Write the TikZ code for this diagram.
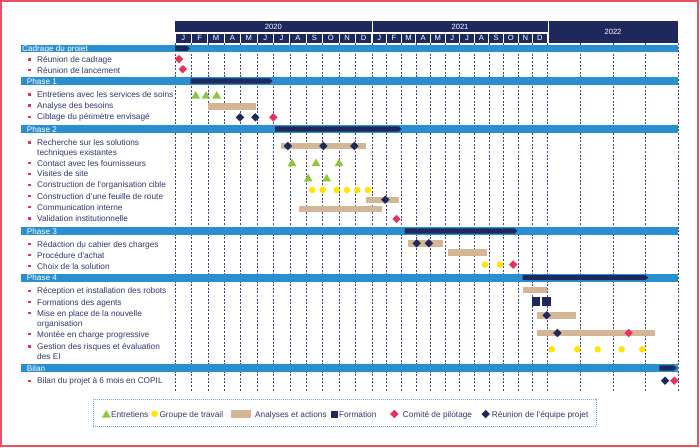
\documentclass[tikz,border=0pt]{standalone}
\usepackage{fontspec}
\setmainfont{Liberation Sans}
\usetikzlibrary{shapes.geometric}

\definecolor{navy}{HTML}{1E285A}
\definecolor{phaseblue}{HTML}{2A8FD0}
\definecolor{sand}{HTML}{D4B596}
\definecolor{leaf}{HTML}{8CC63F}
\definecolor{sun}{HTML}{FFE600}
\definecolor{copilred}{HTML}{E8325C}
\definecolor{ink}{HTML}{30366A}
\definecolor{gridgray}{HTML}{3E4679}
\definecolor{framered}{HTML}{E8525E}
\definecolor{legendblue}{HTML}{62AEDD}

% sand bar from x #1 to x #2, centred on y #3
\newcommand{\sandbar}[3]{\fill[sand] (#1,#3-3.2) rectangle (#2,#3+3.2);}
% navy arrow from x #1 to x #2, centred on y #3
\newcommand{\navyarrow}[3]{\fill[navy] (#1,#3-2.6) -- (#2-3,#3-2.6) -- (#2,#3) -- (#2-3,#3+2.6) -- (#1,#3+2.6) -- cycle;}
% phase band: name, top, bottom, text x, text
\newcommand{\phaseband}[5]{\fill[phaseblue] (21,#2) rectangle (678,#3);
  \node[phasetext] (#1) at (#4,#3-0.6) {#5};}
% task line: name, baseline, text
\newcommand{\tasklabel}[3]{\fill[copilred] (28.3,#2-4.2) rectangle +(2.4,2.4);
  \node[tasktext] (#1) at (37,#2) {#3};}
% task on two lines: name, first baseline, text (base anchor sits on the last line)
\newcommand{\tasklabeltwo}[3]{\fill[copilred] (28.3,#2-4.2) rectangle +(2.4,2.4);
  \node[tasktext] (#1) at (37,#2+10) {#3};}

\begin{document}
\begin{tikzpicture}[x=1pt,y=-1pt]
        \tikzstyle{tasktext}=[anchor=base west, inner sep=0pt, align=left, text=ink, font=\fontsize{8.3}{10}\selectfont]
        \tikzstyle{phasetext}=[anchor=base west, inner sep=0pt, text=white, font=\fontsize{8.2}{10}\selectfont]
        \tikzstyle{headtext}=[inner sep=0pt, text=white, font=\fontsize{7.6}{9}\selectfont]
        \tikzstyle{monthline}=[gridgray, line width=0.6pt, dash pattern=on 2pt off 1.6pt]
        \tikzstyle{copil}=[diamond, fill=copilred, inner sep=0pt, minimum width=8.6pt, minimum height=8.6pt]
        \tikzstyle{equipe}=[diamond, fill=navy, inner sep=0pt, minimum width=8.6pt, minimum height=8.6pt]
        \tikzstyle{groupe}=[circle, fill=sun, inner sep=0pt, minimum size=6.6pt]
        \tikzstyle{entretien}=[regular polygon, regular polygon sides=3, fill=leaf, inner sep=0pt, minimum size=10pt]
        \tikzstyle{formation}=[rectangle, fill=navy, inner sep=0pt, minimum size=8.4pt]
        \useasboundingbox (0,0) rectangle (700,447);
        \draw[framered, line width=2pt] (0.5,0.5) rectangle (697.8,445.5);

        % header
        \fill[navy] (175,21) rectangle (371.5,32);
        \node[headtext] (y2020) at (273.3,26.6) {2020};
        \fill[navy] (372.5,21) rectangle (547.5,32);
        \node[headtext] (y2021) at (460,26.6) {2021};
        \fill[navy] (548.5,21) rectangle (678,43);
        \node[headtext] (y2022) at (613,32) {2022};
        \foreach \m [count=\i from 0] in {J,F,M,A,M,J,J,A,S,O,N,D}{
            \fill[navy] (175.5+16.4*\i,33.5) rectangle (174.5+16.4*\i+16.4,43);
            \node[headtext] (m20-\i) at (175+16.4*\i+8.2,38.3) {\m};
            \fill[navy] (372.5+14.6*\i,33.5) rectangle (371.5+14.6*\i+14.6,43);
            \node[headtext] (m21-\i) at (372+14.6*\i+7.3,38.3) {\m};
        }

        % month lines
        \foreach \i in {0,...,12} \draw[monthline] (175+16.4*\i,43) -- (175+16.4*\i,392);
        \foreach \i in {1,...,12} \draw[monthline] (372+14.6*\i,43) -- (372+14.6*\i,392);
        \foreach \i in {1,...,4} \draw[monthline] (548+32.5*\i,43) -- (548+32.5*\i,392);

        % phases
        \phaseband{cadrage}{44.5}{52}{22}{Cadrage du projet}
        \phaseband{phase1}{77}{84.6}{26.7}{Phase 1}
        \phaseband{phase2}{125}{132.7}{26.7}{Phase 2}
        \phaseband{phase3}{227}{234.6}{26.7}{Phase 3}
        \phaseband{phase4}{273.6}{281.5}{26.7}{Phase 4}
        \phaseband{bilan}{364.2}{371.8}{26.7}{Bilan}
        \navyarrow{175}{190}{48.3}
        \navyarrow{190.7}{272.7}{81}
        \navyarrow{275}{401.7}{128.9}
        \navyarrow{404.5}{517.5}{231}
        \navyarrow{522.7}{648.3}{277.6}
        \navyarrow{659.3}{676.7}{368}

        % tasks
        \tasklabel{t-cadrage}{62.5}{Réunion de cadrage}
        \tasklabel{t-lancement}{73.2}{Réunion de lancement}
        \tasklabel{t-entretiens}{97.5}{Entretiens avec les services de soins}
        \tasklabel{t-besoins}{108.5}{Analyse des besoins}
        \tasklabel{t-ciblage}{119.9}{Ciblage du périmètre envisagé}
        \tasklabeltwo{t-recherche}{145.5}{Recherche sur les solutions\\techniques existantes}
        \tasklabel{t-contact}{166.2}{Contact avec les fournisseurs}
        \tasklabel{t-visites}{176.9}{Visites de site}
        \tasklabel{t-cible}{187.9}{Construction de l’organisation cible}
        \tasklabel{t-feuille}{199.2}{Construction d’une feuille de route}
        \tasklabel{t-comm}{210.2}{Communication interne}
        \tasklabel{t-validation}{221.5}{Validation institutionnelle}
        \tasklabel{t-cahier}{247.2}{Rédaction du cahier des charges}
        \tasklabel{t-achat}{258.2}{Procédure d’achat}
        \tasklabel{t-choix}{269.2}{Choix de la solution}
        \tasklabel{t-robots}{293.9}{Réception et installation des robots}
        \tasklabel{t-agents}{305.2}{Formations des agents}
        \tasklabeltwo{t-orga}{316.2}{Mise en place de la nouvelle\\organisation}
        \tasklabel{t-montee}{337.2}{Montée en charge progressive}
        \tasklabeltwo{t-risques}{349.5}{Gestion des risques et évaluation\\des EI}
        \tasklabel{t-copil}{383.9}{Bilan du projet à 6 mois en COPIL}

        % bars
        \sandbar{208}{255.7}{106.3}
        \sandbar{280.7}{365.7}{145.8}
        \sandbar{366}{398.7}{199.7}
        \sandbar{299}{381.7}{209}
        \sandbar{408.3}{442.7}{243.3}
        \sandbar{447.7}{486.7}{252.5}
        \sandbar{523.3}{547.3}{290}
        \sandbar{536.7}{576}{315.5}
        \sandbar{536.7}{655}{333.2}
        \node[formation] (f-1) at (535.9,301.5) {};
        \node[formation] (f-2) at (546.5,301.5) {};

        % markers
        \node[copil] (c-1) at (179,59.2) {};
        \node[copil] (c-2) at (182.8,69.2) {};
        \foreach \x [count=\i] in {195.7,206,216.7} \node[entretien] (ent-\i) at (\x,96) {};
        \node[equipe] (e-1) at (240,117.3) {};
        \node[equipe] (e-2) at (255.3,117.3) {};
        \node[copil] (c-3) at (273.3,117.3) {};
        \foreach \x [count=\i] in {287.9,323.3,354.3} \node[equipe] (rech-\i) at (\x,146) {};
        \foreach \x [count=\i] in {292,316,339} \node[entretien] (four-\i) at (\x,163.6) {};
        \foreach \x [count=\i] in {308.3,326.7} \node[entretien] (site-\i) at (\x,178.9) {};
        \foreach \x [count=\i] in {312.3,322.7,336.7,347,357.3,368} \node[groupe] (cib-\i) at (\x,190) {};
        \node[equipe] (e-3) at (385.3,199.7) {};
        \node[copil] (c-4) at (396.5,219) {};
        \node[equipe] (e-4) at (416.7,243.3) {};
        \node[equipe] (e-5) at (428.9,243.3) {};
        \node[groupe] (g-1) at (485,264.6) {};
        \node[groupe] (g-2) at (500,264.6) {};
        \node[copil] (c-5) at (513.2,264.6) {};
        \node[equipe] (e-6) at (546.7,315.3) {};
        \node[equipe] (e-7) at (557.3,333) {};
        \node[copil] (c-6) at (628.7,333) {};
        \foreach \x [count=\i] in {551.7,577.3,597.7,621.7,642.3} \node[groupe] (ris-\i) at (\x,349.3) {};
        \node[equipe] (e-8) at (665,380.7) {};
        \node[copil] (c-7) at (674.3,380.7) {};

        % legend
        \draw[legendblue, line width=0.6pt, dash pattern=on 1pt off 1pt] (93.3,399.3) rectangle (596,426);
        \node[entretien] (l-ent) at (106.3,415) {};
        \node[tasktext] (l-enttext) at (110.8,417.2) {Entretiens};
        \node[groupe] (l-grp) at (154.7,413.8) {};
        \node[tasktext] (l-grptext) at (159.3,417.2) {Groupe de travail};
        \fill[sand] (231,410) rectangle (250.7,417.6);
        \node[tasktext] (l-sandtext) at (255,417.2) {Analyses et actions};
        \node[formation, minimum size=7pt] (l-form) at (334.4,414) {};
        \node[tasktext] (l-formtext) at (338.9,417.2) {Formation};
        \node[copil] (l-copil) at (394.3,414) {};
        \node[tasktext] (l-copiltext) at (402.7,417.2) {Comité de pilotage};
        \node[equipe] (l-equipe) at (485.7,414) {};
        \node[tasktext] (l-equipetext) at (491.7,417.2) {Réunion de l’équipe projet};
\end{tikzpicture}
\end{document}
